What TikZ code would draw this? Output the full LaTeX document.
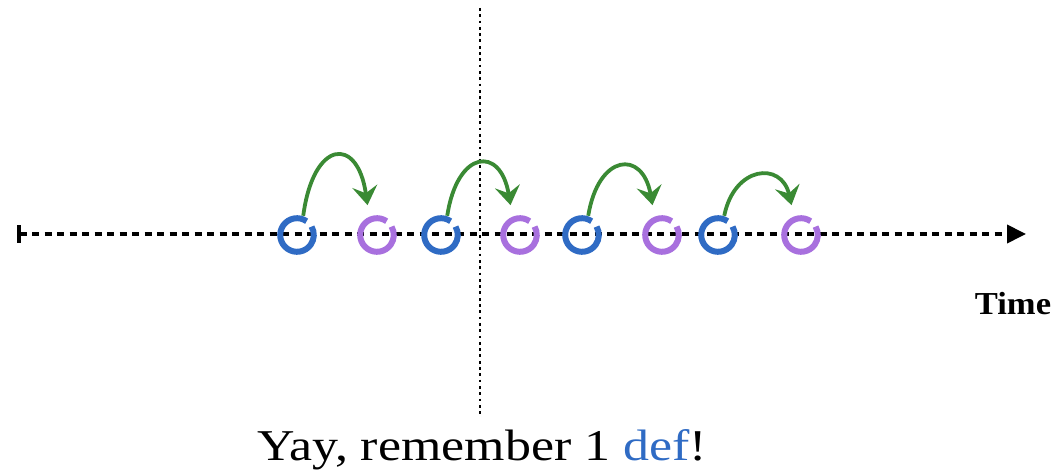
\documentclass[tikz,border=0pt]{standalone}
\usepackage{fontspec}
\setmainfont{Liberation Serif}[FakeStretch=1.18]
\newfontfamily\timefont{Liberation Serif}[FakeStretch=1.08]
\usetikzlibrary{arrows.meta}
\definecolor{ringblue}{RGB}{47,107,196}
\definecolor{ringpurple}{RGB}{168,112,222}
\definecolor{arrowgreen}{RGB}{58,138,52}
\begin{document}
\begin{tikzpicture}[x=1pt,y=1pt,
  ringnode/.style={circle,minimum size=40pt,inner sep=0pt},
  ring/.style={line width=6pt},
  timeline/.style={line width=3.8pt,dash pattern=on 7pt off 5.5pt,
    arrows={Bar[width=18pt,line width=3.5pt]-Triangle[length=19pt,width=18pt]}},
  hop/.style={arrowgreen,line width=3.8pt,-{Stealth[length=19pt,width=25pt,inset=7pt]}},
  dotline/.style={line width=2.8pt,dash pattern=on 2.8pt off 3.5pt},
  lbl/.style={anchor=base,inner sep=0pt}]
\useasboundingbox (0,0) rectangle (1059,476);
% timeline
\coordinate (t0) at (17,242);
\coordinate (t1) at (1026,242);
\draw[timeline] (t0) -- (t1);
% vertical dotted line
\coordinate (v0) at (480,468);
\coordinate (v1) at (480,60);
\draw[dotline] (v0) -- (v1);
% ring nodes
\foreach \n/\x in {1/297,2/441,3/582,4/718}{
  \node[ringnode] (b\n) at (\x,241) {};
  \draw[ring,ringblue] (b\n.center) ++(55:16.8) arc[start angle=55,end angle=390,radius=16.8];
}
\foreach \n/\x in {1/377,2/520,3/662,4/801}{
  \node[ringnode] (p\n) at (\x,241) {};
  \draw[ring,ringpurple] (p\n.center) ++(55:16.8) arc[start angle=55,end angle=390,radius=16.8];
}
% hops
\foreach \n/\h in {1/76,2/66,3/62,4/50}{
  \draw[hop] (b\n.72) .. controls +(10,\h) and +(-10,{\h-6}) .. ([yshift=12pt]p\n.118);
}
% labels
\node[lbl,font=\timefont\bfseries\fontsize{32}{36}\selectfont] (time) at (1013,161) {Time};
\node[lbl,font=\fontsize{44}{48}\selectfont] (cap) at (482,16) {Yay, remember 1 \textcolor{ringblue}{def}!};
\end{tikzpicture}
\end{document}
